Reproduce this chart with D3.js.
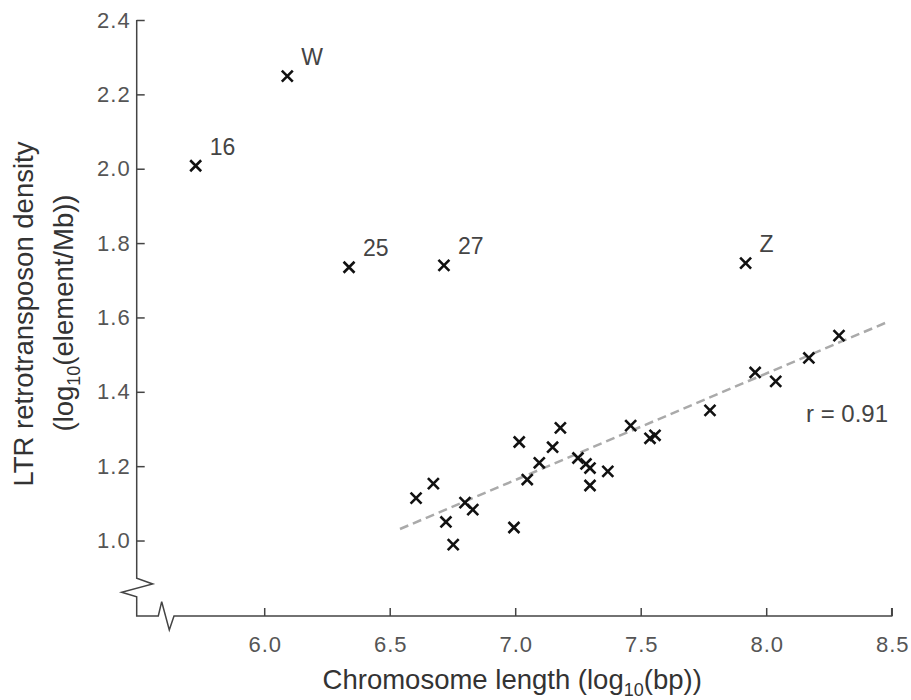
<!DOCTYPE html>
<html>
<head>
<meta charset="utf-8">
<script src="https://cdn.jsdelivr.net/npm/d3@7/dist/d3.min.js"></script>
<style>
  html, body { margin: 0; padding: 0; background: #fff; }
  svg { display: block; font-family: "Liberation Sans", Arial, sans-serif; }
</style>
</head>
<body>
<svg id="chart" width="911" height="700"></svg>
<script>
// ---- data ----
const chromLength = [6.605, 6.674, 6.724, 6.753, 6.800, 6.831, 6.995, 7.016, 7.048, 7.096,
                     7.149, 7.180, 7.250, 7.282, 7.298, 7.298, 7.369, 7.460, 7.537, 7.557,
                     7.776, 7.956, 8.038, 8.170, 8.290];
const ltrDensity  = [1.114, 1.153, 1.050, 0.989, 1.102, 1.083, 1.035, 1.265, 1.164, 1.209,
                     1.251, 1.303, 1.222, 1.206, 1.195, 1.148, 1.186, 1.309, 1.275, 1.283,
                     1.350, 1.452, 1.428, 1.491, 1.551];
const outlierNames  = ["16", "W", "25", "27", "Z"];
const outlierLength = [5.727, 6.092, 6.338, 6.716, 7.918];
const outlierDensity = [2.008, 2.249, 1.735, 1.740, 1.746];
const trendLength  = [6.541, 8.477];
const trendDensity = [1.031, 1.586];
const xTicks = [6.0, 6.5, 7.0, 7.5, 8.0, 8.5];
const yTicks = [1.0, 1.2, 1.4, 1.6, 1.8, 2.0, 2.2, 2.4];
const rLabel = "r = 0.91";

// ---- layout ----
const svg = d3.select("#chart");
const x0 = 136.7, x1 = 891.7, yTop = 20, yBot = 616;
const x = d3.scaleLinear().domain([5.492, 8.5]).range([x0, x1]);
const y = d3.scaleLinear().domain([0.797, 2.4]).range([yBot, yTop]);
const axisColor = "#444";

// x axis ticks
const gx = svg.append("g").attr("transform", `translate(0,${yBot})`)
  .call(d3.axisBottom(x).tickValues(xTicks).tickFormat(d3.format(".1f"))
        .tickSize(-8).tickPadding(20));
gx.select(".domain").remove();
gx.selectAll("line").attr("stroke", axisColor).attr("stroke-width", 1.5);
gx.selectAll("text").attr("fill", "#555").style("font-size", "22px")
  .style("letter-spacing", "1px").attr("dx", "0.5")
  .style("font-family", "'Liberation Sans', Arial, sans-serif");

// y axis ticks
const gy = svg.append("g").attr("transform", `translate(${x0},0)`)
  .call(d3.axisLeft(y).tickValues(yTicks).tickFormat(d3.format(".1f"))
        .tickSize(-8).tickPadding(6));
gy.select(".domain").remove();
gy.selectAll("line").attr("stroke", axisColor).attr("stroke-width", 1.5);
gy.selectAll("text").attr("fill", "#555").style("font-size", "22px")
  .style("letter-spacing", "1px")
  .style("font-family", "'Liberation Sans', Arial, sans-serif");

// axis lines with breaks
const p = d3.path();
p.moveTo(x0, y(2.4));
p.lineTo(x0, yBot - 37.7);
p.lineTo(x0 + 16, yBot - 32);
p.lineTo(x0 - 15, yBot - 23.7);
p.lineTo(x0, yBot - 19.3);
p.lineTo(x0, yBot);
p.lineTo(x0 + 21.6, yBot);
p.lineTo(x0 + 25, yBot - 14.3);
p.lineTo(x0 + 32.6, yBot + 14);
p.lineTo(x0 + 37.3, yBot);
p.lineTo(x1, yBot);
p.lineTo(x1, yBot - 8);
svg.append("path").attr("d", p.toString()).attr("fill", "none")
  .attr("stroke", axisColor).attr("stroke-width", 1.5).attr("stroke-linejoin", "miter");

// trend line
svg.append("line")
  .attr("x1", x(trendLength[0])).attr("y1", y(trendDensity[0]))
  .attr("x2", x(trendLength[1])).attr("y2", y(trendDensity[1]))
  .attr("stroke", "#aaa").attr("stroke-width", 2.5).attr("stroke-dasharray", "9,5");

// markers
const sym = d3.symbol(d3.symbolTimes, 80);
const pts = chromLength.map((v, i) => ({x: v, y: ltrDensity[i]}));
const outs = outlierLength.map((v, i) => ({x: v, y: outlierDensity[i], name: outlierNames[i]}));
svg.append("g").selectAll("path").data(pts.concat(outs)).join("path")
  .attr("transform", d => `translate(${x(d.x)},${y(d.y)})`)
  .attr("d", sym).attr("fill", "none").attr("stroke", "#111").attr("stroke-width", 2.6);

// outlier labels
svg.append("g").selectAll("text").data(outs).join("text")
  .attr("x", d => x(d.x) + 14).attr("y", d => y(d.y) - 11)
  .attr("fill", "#444").style("font-size", "23px").text(d => d.name);

// r label
svg.append("text").attr("x", 806).attr("y", 421.7).attr("fill", "#444")
  .style("font-size", "24px").text(rLabel);

// x title
const xt = svg.append("text").attr("x", (x0 + x1) / 2 - 2).attr("y", 689)
  .attr("text-anchor", "middle").attr("fill", "#333").style("font-size", "27.5px");
xt.append("tspan").text("Chromosome length (log");
xt.append("tspan").attr("dy", 7).style("font-size", "18px").text("10");
xt.append("tspan").attr("dy", -7).text("(bp))");

// y title
const yt1 = svg.append("text").attr("transform", "translate(33,314) rotate(-90)")
  .attr("text-anchor", "middle").attr("fill", "#333").style("font-size", "27.5px")
  .text("LTR retrotransposon density");
const yt2 = svg.append("text").attr("transform", "translate(73,313) rotate(-90)")
  .attr("text-anchor", "middle").attr("fill", "#333").style("font-size", "27.5px");
yt2.append("tspan").text("(log");
yt2.append("tspan").attr("dy", 7).style("font-size", "18px").text("10");
yt2.append("tspan").attr("dy", -7).text("(element/Mb))");
</script>
</body>
</html>
